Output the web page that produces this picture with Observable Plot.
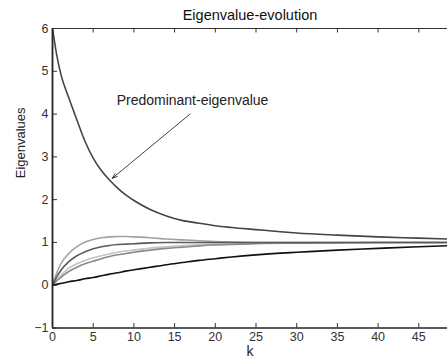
<!DOCTYPE html>
<html>
<head>
<meta charset="utf-8">
<script src="https://cdn.jsdelivr.net/npm/d3@7"></script>
<script src="https://cdn.jsdelivr.net/npm/@observablehq/plot@0.6"></script>
<style>
  html, body { margin: 0; padding: 0; background: white; overflow: hidden; }
</style>
</head>
<body>
<div id="chart"></div>
<script>
const title = "Eigenvalue-evolution";
const xLabel = "k";
const yLabel = "Eigenvalues";
const xTicks = [0, 5, 10, 15, 20, 25, 30, 35, 40, 45];
const yTicks = [-1, 0, 1, 2, 3, 4, 5, 6];

const k = [0, 0.5, 1, 2, 3, 4, 5, 6, 7, 8, 9, 10, 12, 14, 16, 18, 20, 22, 25, 28, 30, 35, 40, 45, 50];
const predominant = [6, 5.4, 4.95, 4.38, 3.86, 3.36, 2.97, 2.68, 2.46, 2.27, 2.11, 1.98, 1.77, 1.62, 1.51, 1.45, 1.39, 1.35, 1.30, 1.25, 1.22, 1.17, 1.13, 1.10, 1.07];
const eigA = [0, 0.28, 0.49, 0.74, 0.90, 1.01, 1.07, 1.11, 1.13, 1.14, 1.14, 1.13, 1.11, 1.08, 1.06, 1.04, 1.02, 1.01, 1.00, 1.00, 1.00, 1.00, 1.00, 1.00, 1.00];
const eigB = [0, 0.19, 0.34, 0.55, 0.69, 0.78, 0.85, 0.90, 0.93, 0.95, 0.96, 0.97, 0.99, 1.00, 1.00, 1.00, 1.00, 1.00, 1.00, 1.00, 1.00, 1.00, 1.00, 1.00, 1.00];
const eigC = [0, 0.12, 0.22, 0.40, 0.50, 0.58, 0.64, 0.69, 0.73, 0.77, 0.80, 0.82, 0.87, 0.90, 0.93, 0.95, 0.96, 0.97, 0.98, 0.99, 0.99, 1.00, 1.00, 1.00, 1.00];
const eigD = [0, 0.10, 0.18, 0.32, 0.42, 0.50, 0.56, 0.62, 0.67, 0.71, 0.74, 0.77, 0.82, 0.86, 0.89, 0.92, 0.94, 0.95, 0.97, 0.98, 0.98, 0.99, 1.00, 1.00, 1.00];
const eigE = [0, 0.02, 0.04, 0.08, 0.11, 0.15, 0.18, 0.22, 0.26, 0.29, 0.33, 0.36, 0.42, 0.48, 0.53, 0.58, 0.62, 0.66, 0.71, 0.75, 0.77, 0.82, 0.86, 0.90, 0.93];

const seriesNames = ["A", "C", "D", "B", "E", "P"];
const seriesValues = {A: eigA, B: eigB, C: eigC, D: eigD, E: eigE, P: predominant};
const seriesColors = {A: "#a2a2a2", B: "#5a5a5a", C: "#c4c4c4", D: "#8a8a8a", E: "#111111", P: "#444444"};

const annotText = ["Predominant-eigenvalue"];
const annotTextPos = {x: 17.2, y: 4.32};
const arrowFrom = {x: 16.9, y: 4.0};
const arrowTo = {x: 7.35, y: 2.5};

const rows = seriesNames.flatMap(s => k.map((kk, i) => ({series: s, k: kk, v: seriesValues[s][i]})));

const font = "'Liberation Sans', Arial, Helvetica, sans-serif";
const fmt = d => (d < 0 ? "\u22121" : String(d));

const plot = Plot.plot({
  width: 447,
  height: 358,
  marginLeft: 52,
  marginRight: 0,
  marginTop: 28,
  marginBottom: 30.5,
  style: {fontFamily: font, background: "white", color: "#222"},
  x: {domain: [0, 50], range: [52, 459], label: null},
  y: {domain: [-1, 6], range: [327.5, 28], label: null},
  marks: [
    Plot.axisX({ticks: xTicks, tickSize: 0, tickPadding: 4, fontSize: 12.5, label: null, fill: "#333", tickFormat: fmt}),
    Plot.axisY({ticks: yTicks, tickSize: 0, tickPadding: 4, fontSize: 12.5, label: null, fill: "#333", tickFormat: fmt}),
    // inward ticks
    Plot.tickX(xTicks, {x: d => d, insetTop: 295, stroke: "#333", strokeWidth: 1}),
    Plot.tickX(xTicks, {x: d => d, insetBottom: 295, stroke: "#333", strokeWidth: 1}),
    Plot.tickY(yTicks, {y: d => d, insetRight: 390, stroke: "#333", strokeWidth: 1}),
    ...seriesNames.map(s => Plot.line(rows.filter(r => r.series === s), {
      x: "k", y: "v", stroke: seriesColors[s], strokeWidth: 1.6, curve: "monotone-x", clip: true
    })),
    // frame
    Plot.ruleY([-1], {stroke: "#222", strokeWidth: 1.5}),
    Plot.ruleY([6], {stroke: "#333", strokeWidth: 1.2}),
    Plot.ruleX([0], {stroke: "#222", strokeWidth: 1.8}),
    Plot.arrow([0], {x1: () => arrowFrom.x, y1: () => arrowFrom.y, x2: () => arrowTo.x, y2: () => arrowTo.y,
      stroke: "#111", strokeWidth: 0.8, headLength: 10, headAngle: 40}),
    Plot.text(annotText, {x: () => annotTextPos.x, y: () => annotTextPos.y, text: d => d, fontSize: 14, fill: "#222", textAnchor: "middle"}),
    Plot.text([title], {frameAnchor: "top", text: d => d, dy: -9, fontSize: 14.5, fill: "#111", lineAnchor: "bottom"}),
    Plot.text([xLabel], {frameAnchor: "bottom", text: d => d, dy: 28, fontSize: 14, fill: "#222", lineAnchor: "bottom"}),
    Plot.text([yLabel], {frameAnchor: "left", text: d => d, dx: -32, rotate: -90, fontSize: 13, fill: "#222"})
  ]
});
document.getElementById("chart").appendChild(plot);
</script>
</body>
</html>
